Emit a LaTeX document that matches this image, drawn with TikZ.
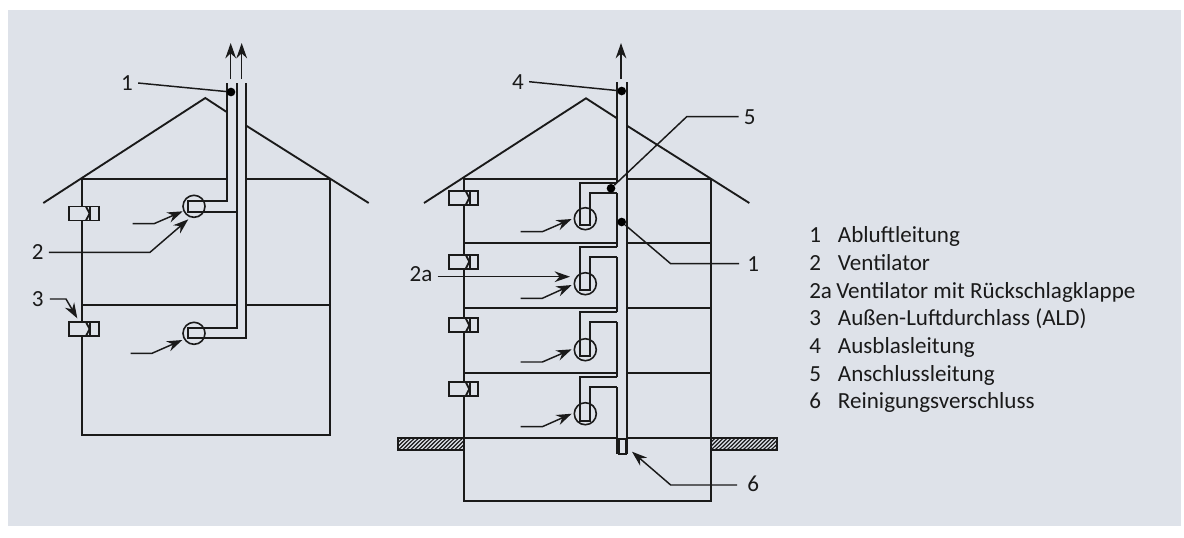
\documentclass[tikz,border=0pt]{standalone}
\usepackage{fontspec}
\setmainfont{Carlito}
\usetikzlibrary{arrows.meta}
\definecolor{panel}{HTML}{DEE2E9}
\definecolor{strich}{HTML}{1A1A1A}
\tikzset{
  wand/.style={line width=1.4pt, strich},
  fuehrung/.style={line width=1.1pt, strich},
  pfeil/.style={line width=1.1pt, strich, -{Stealth[length=11.5pt,width=8pt]}},
  punkt/.style={circle, fill=black, inner sep=0pt, minimum size=6.5pt},
  luefter/.style={circle, draw=strich, line width=1.2pt, inner sep=0pt, minimum size=16.5pt},
  ziffer/.style={inner sep=0pt, font=\fontsize{17.3}{20}\selectfont, text=strich},
  legende/.style={inner sep=0pt, anchor=base west, font=\fontsize{17.3}{20}\selectfont, text=strich}
}
\newcommand{\ald}[2]{% Aussen-Luftdurchlass, #1 = x links, #2 = y oben
  \draw[wand, fill=panel] (#1,#2) rectangle ++(29.7,14);
  \draw[wand] (#1+17,#2) -- ++(3.6,7) -- ++(-3.6,7);
  \draw[wand] (#1+21,#2) -- ++(0,14);
}
\begin{document}
\begin{tikzpicture}[x=0.75pt,y=-0.75pt]
  \useasboundingbox (0,0) rectangle (1184,537);
  \fill[panel] (8,10) rectangle (1181,526);
  % linkes haus
  \draw[wand] (43.3,203) -- (205.3,98) -- (226.7,112);
  \draw[wand] (246.3,125.7) -- (368.7,203);
  \draw[wand] (226.7,179) -- (82.3,179) -- (82.3,435) -- (329.7,435) -- (329.7,179) -- (246.3,179);
  \draw[wand] (82.3,305) -- (236.7,305);
  \draw[wand] (246.3,305) -- (329.7,305);
  % leitungen links
  \draw[wand] (226.7,83) -- (226.7,201) -- (187.7,201) -- (187.7,211.7) -- (236.7,211.7);
  \draw[wand] (236.7,83) -- (236.7,328) -- (187.7,328) -- (187.7,338.3) -- (246.3,338.3) -- (246.3,83);
  \node[luefter] (vent1) at (194,206.3) {};
  \node[luefter] (vent2) at (194,333.3) {};
  \ald{69}{206.5}
  \ald{69}{322}
  % rechtes haus
  \draw[wand] (424,203) -- (586,98.3) -- (617,118.3);
  \draw[wand] (627,125.7) -- (749.3,203);
  \draw[wand] (617,179) -- (463.7,179) -- (463.7,500.7) -- (710.7,500.7) -- (710.7,179) -- (627,179);
  \foreach \y in {242.7,308,372.7,437.7} {
    \draw[wand] (463.7,\y) -- (617,\y);
    \draw[wand] (627,\y) -- (710.7,\y);
  }
  % erdreich
  \foreach \a/\b in {398/463.7,710.7/776.7} {
    \begin{scope}
      \clip (\a,437.7) rectangle (\b,450.3);
      \foreach \h in {0,4,...,80} \draw[line width=0.9pt, strich] (\a+\h-16,450.3) -- ++(13,-12.6);
    \end{scope}
    \draw[wand] (\a,437.7) rectangle (\b,450.3);
  }
  % leitungen rechts
  \draw[wand] (627,82.3) -- (627,454.3);
  \draw[wand] (617,82.3) -- (617,183.3);
  \draw[wand] (617,193) -- (617,246.7);
  \draw[wand] (617,256.7) -- (617,312.3);
  \draw[wand] (617,322.3) -- (617,376.7);
  \draw[wand] (617,387) -- (617,454.3);
  \draw[wand] (619.3,439.3) rectangle (625.7,454.3);
  \foreach \n/\o/\u/\b/\m in {3/183.3/193/225/218.7,4/246.7/256.7/290.3/283.7,5/312.3/322.3/355.7/349.7,6/376.7/387/420.7/413.7} {
    \draw[wand] (617,\o) -- (580.3,\o) -- (580.3,\b) -- (590,\b) -- (590,\u) -- (617,\u);
    \node[luefter] (vent\n) at (585.3,\m) {};
  }
  \foreach \y in {191,254.7,318.3,382} {
    \ald{448.7}{\y}
  }
  % pfeile oben
  \draw[pfeil] (230.7,79) -- (230.7,43);
  \draw[pfeil] (241.7,79) -- (241.7,43);
  \draw[pfeil] (621,79) -- (621,43);
  % zuluft
  \coordinate (zu1) at (132.7,223.7);
  \coordinate (zu2) at (130.7,353.3);
  \draw[pfeil] (zu1) -- ++(21.3,0) -- (182.7,211.3);
  \draw[pfeil] (zu2) -- ++(21.3,0) -- (182.3,340);
  \foreach \n/\y/\e in {3/231.7/219,4/298.3/285,5/362/349.3,6/426.7/413.7} {
    \coordinate (zu\n) at (520.7,\y);
    \draw[pfeil] (zu\n) -- ++(21.6,0) -- (571.7,\e);
  }
  % punkte
  \node[punkt] (p1) at (231,92) {};
  \node[punkt] (p4) at (621.7,91) {};
  \node[punkt] (p5) at (611,188.3) {};
  \node[punkt] (p1b) at (621.7,222) {};
  % ziffern
  \node[ziffer] (z1) at (127,83) {1};
  \node[ziffer] (z2) at (37.7,252.3) {2};
  \node[ziffer] (z3) at (37.7,299) {3};
  \node[ziffer] (z4) at (518,81.7) {4};
  \node[ziffer] (z5) at (749.7,116.7) {5};
  \node[ziffer] (z1b) at (753.3,263.7) {1};
  \node[ziffer] (z2a) at (421,274) {2a};
  \node[ziffer] (z6) at (753.3,483.3) {6};
  % fuehrungen
  \draw[fuehrung] (z1.east) ++(5,0) -- (p1);
  \draw[pfeil] (z2.east) ++(5,0) -- (150,252.3) -- (188.3,219.3);
  \draw[pfeil] (z3.east) ++(6,0) -- (66,299) -- (77.3,318.3);
  \draw[fuehrung] (z4.east) ++(5,0) -- (p4);
  \draw[fuehrung] (z5.west) ++(-5,0) -- (686.7,116.7) -- (p5);
  \draw[fuehrung] (z1b.west) ++(-8,0) -- (670.7,263.7) -- (p1b);
  \draw[pfeil] (z2a.east) ++(5,2.7) -- (570,276.7);
  \draw[pfeil] (z6.west) ++(-10,1.7) -- (670.7,485) -- (632,451.7);
  % legende
  \foreach \n/\t [count=\i from 0] in {1/Abluftleitung,2/Ventilator,3/Außen-Luftdurchlass (ALD),4/Ausblasleitung,5/Anschlussleitung,6/Reinigungsverschluss} {
    \pgfmathsetmacro{\yy}{\i<2 ? 242.7+27.7*\i : 242.7+27.7*(\i+1)}
    \node[legende] (lz\i) at (809,\yy) {\n};
    \node[legende] (lt\i) at (837.7,\yy) {\t};
  }
  \node[legende] (lz2a) at (809,298.1) {2a};
  \node[legende] (lt2a) at (836,298.1) {Ventilator mit Rückschlagklappe};
\end{tikzpicture}
\end{document}
